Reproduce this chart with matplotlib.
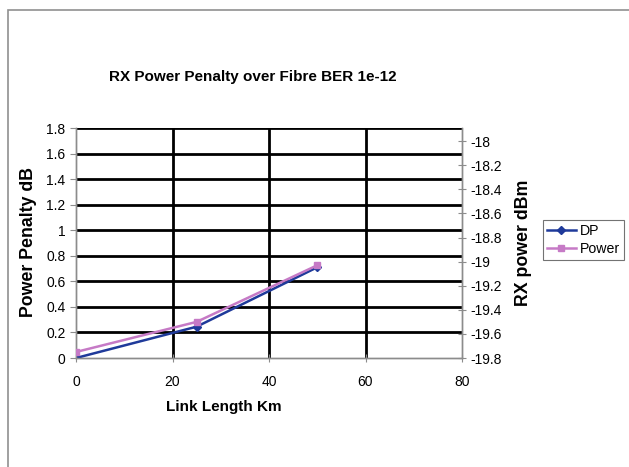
import matplotlib.pyplot as plt
from matplotlib.patches import Rectangle

plt.rcParams['font.family'] = ['Liberation Sans', 'DejaVu Sans']

link_km = [0, 25, 50]
dp_penalty = [0.0, 0.245, 0.71]
rx_power = [-19.75, -19.5, -19.03]

left_ticks = [0, 0.2, 0.4, 0.6, 0.8, 1, 1.2, 1.4, 1.6, 1.8]
left_labels = ['0', '0.2', '0.4', '0.6', '0.8', '1', '1.2', '1.4', '1.6', '1.8']
right_ticks = [-19.8, -19.6, -19.4, -19.2, -19.0, -18.8, -18.6, -18.4, -18.2, -18.0]
right_labels = ['-19.8', '-19.6', '-19.4', '-19.2', '-19', '-18.8', '-18.6', '-18.4', '-18.2', '-18']
x_ticks = [0, 20, 40, 60, 80]

dp_col = '#1f3a9a'
pw_col = '#c67ac6'
spine_col = '#8c8c8c'

fig = plt.figure(figsize=(6.29, 4.67), dpi=100)
fig.patches.append(Rectangle((8 / 629, -0.1), 1.2, (467 - 10) / 467 + 0.1,
                             transform=fig.transFigure, fill=False,
                             edgecolor='#909090', linewidth=1.2))

ax = fig.add_axes([76 / 629, (467 - 358) / 467, (462 - 76) / 629, (358 - 128) / 467])
ax.set_xlim(0, 80)
ax.set_ylim(0, 1.8)
ax.set_xticks(x_ticks)
ax.set_yticks(left_ticks)
ax.set_yticklabels(left_labels)
for v in left_ticks[1:]:
    ax.axhline(v, color='black', linewidth=2, zorder=1)
for v in x_ticks[1:-1]:
    ax.axvline(v, color='black', linewidth=2, zorder=1)
for s in ax.spines.values():
    s.set_color(spine_col)
    s.set_linewidth(1)
ax.spines['top'].set_visible(False)
ax.tick_params(axis='both', colors=spine_col, labelcolor='black', labelsize=10, length=4)
ax.tick_params(axis='x', direction='inout', length=6, pad=9)

line1, = ax.plot(link_km, dp_penalty, color=dp_col, linewidth=1.8, marker='D',
                 markersize=4.5, zorder=3, label='DP')

ax2 = ax.twinx()
ax2.set_ylim(-19.8, -17.89)
ax2.set_yticks(right_ticks)
ax2.set_yticklabels(right_labels)
for s in ax2.spines.values():
    s.set_color(spine_col)
    s.set_linewidth(1)
ax2.spines['top'].set_visible(False)
ax2.tick_params(axis='y', colors=spine_col, labelcolor='black', labelsize=10,
                direction='inout', length=6, pad=3)
line2, = ax2.plot(link_km, rx_power, color=pw_col, linewidth=1.8, marker='s',
                  markersize=5, zorder=3, label='Power')

fig.text(253 / 629, 1 - 77 / 467, 'RX Power Penalty over Fibre BER 1e-12',
         ha='center', va='center', fontsize=11, fontweight='bold')
fig.text(29 / 629, 1 - 242 / 467, 'Power Penalty dB', rotation=90,
         ha='center', va='center', fontsize=12.8, fontweight='bold')
fig.text(524 / 629, 1 - 243 / 467, 'RX power dBm', rotation=90,
         ha='center', va='center', fontsize=12.8, fontweight='bold')
fig.text(224 / 629, 1 - 407 / 467, 'Link Length Km',
         ha='center', va='center', fontsize=11, fontweight='bold')

leg = fig.legend([line1, line2], ['DP', 'Power'], loc='center left',
                 bbox_to_anchor=(543 / 629, 1 - 240 / 467), fontsize=10.2,
                 frameon=True, fancybox=False, edgecolor='#505050',
                 handlelength=2.0, borderpad=0.3, labelspacing=0.3,
                 handletextpad=0.3, borderaxespad=0)
leg.get_frame().set_linewidth(0.8)

fig.savefig('out.png', dpi=100)
